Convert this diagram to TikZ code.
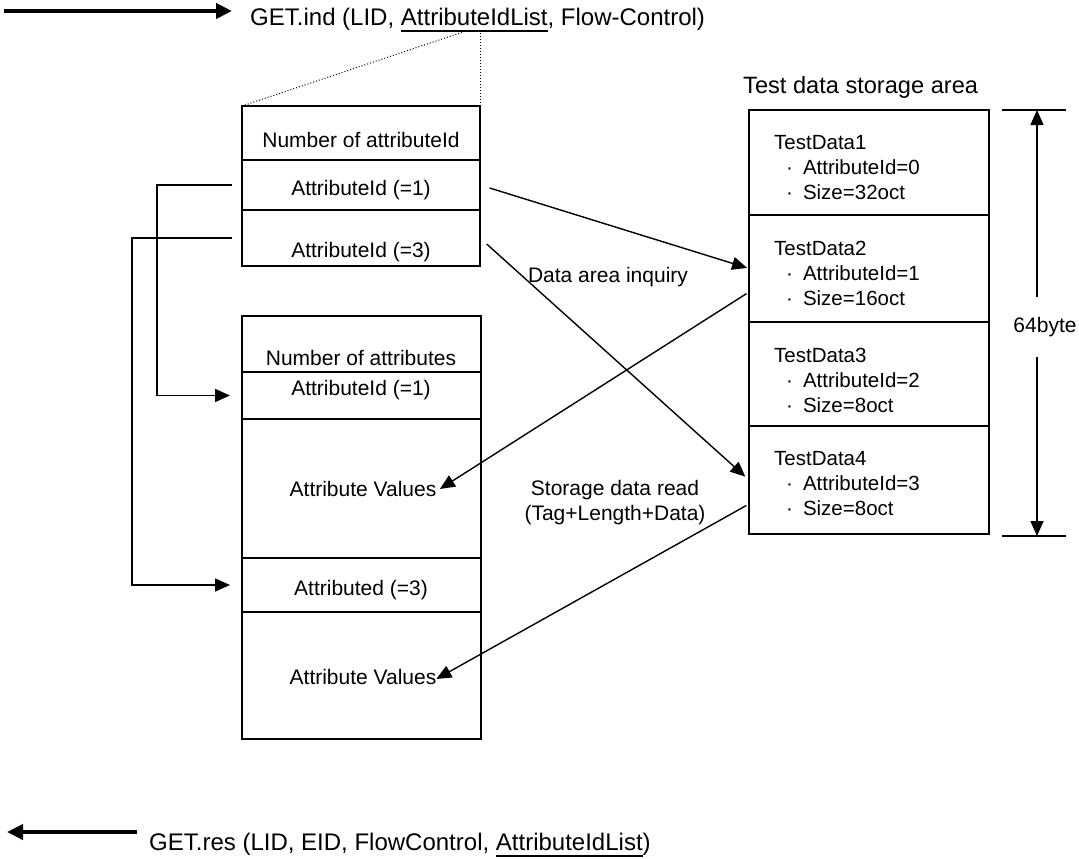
\documentclass[tikz,border=0pt]{standalone}
\usepackage{fontspec}
\setmainfont{Liberation Sans}
\usetikzlibrary{positioning, arrows.meta, calc}

\newcommand{\ulword}[1]{\setbox0\hbox{#1}\rlap{\rule[-6.5pt]{\wd0}{1.5pt}}#1}
\newcommand{\tditem}[1]{\hspace*{12pt}\textperiodcentered\hspace{10pt}#1}

\begin{document}
\begin{tikzpicture}[x=1pt, y=-1pt,
    font=\fontsize{21}{25}\selectfont,
    >={Triangle[length=15pt, width=13pt]},
    % Styles
    cell/.style={draw, line width=1.7pt, rectangle, minimum width=238pt, inner sep=0pt, outer sep=0pt},
    tdcell/.style={cell, minimum width=240pt},
    tdtext/.style={anchor=north west, align=left, inner sep=0pt, font=\fontsize{20.5}{25}\selectfont},
    arrow/.style={->, line width=1.4pt},
    bigarrow/.style={-{Triangle[length=16pt, width=15pt]}, line width=4.5pt},
    head/.style={font=\fontsize{24}{28}\selectfont, inner sep=0pt}
]
    \useasboundingbox (0,0) rectangle (1079,859);

    % --- GET.ind (incoming) ---
    \coordinate (indS) at (4,11);
    \coordinate (indE) at (232,11);
    \draw[bigarrow] (indS) -- (indE);
    \node[head, anchor=base west] (getind) at (250,25.5) {GET.ind (LID, \ulword{AttributeIdList}, Flow-Control)};
    \coordinate (ulA) at (463,32);

    % --- AttributeId list ---
    \node[cell, anchor=north west, minimum height=54pt] (c11) at (242,106) {};
    \node[cell, below=0pt of c11, minimum height=50pt] (c12) {};
    \node[cell, below=0pt of c12, minimum height=56pt] (c13) {};
    \node (n11) at (361,140) {Number of attributeId};
    \node (n12) at (361,190) {AttributeId (=1)};
    \node (n13) at (361,252) {AttributeId (=3)};

    \draw[dotted, line width=1pt] (c11.north west) -- (ulA);
    \draw[dotted, line width=1pt] (c11.north east) -- (c11.north east |- ulA);

    % --- response list ---
    \node[cell, anchor=north west, minimum width=239pt, minimum height=56pt] (c21) at (242,316) {};
    \node[cell, below=0pt of c21, minimum width=239pt, minimum height=47pt] (c22) {};
    \node[cell, below=0pt of c22, minimum width=239pt, minimum height=139pt] (c23) {};
    \node[cell, below=0pt of c23, minimum width=239pt, minimum height=54pt] (c24) {};
    \node[cell, below=0pt of c24, minimum width=239pt, minimum height=127pt] (c25) {};
    \node (n21) at (361,358) {Number of attributes};
    \node (n22) at (361,390) {AttributeId (=1)};
    \node (av1) at (363,489) {Attribute Values};
    \node (n24) at (361,590) {Attributed (=3)};
    \node (av2) at (363,677) {Attribute Values};

    % --- Test data storage area ---
    \node[anchor=west, font=\fontsize{23.6}{28}\selectfont, inner sep=0pt] (area) at (743,87) {Test data storage area};
    \node[tdcell, anchor=north west, minimum height=105pt] (rd1) at (749,110) {};
    \node[tdcell, below=0pt of rd1, minimum height=107pt] (rd2) {};
    \node[tdcell, below=0pt of rd2, minimum height=104pt] (rd3) {};
    \node[tdcell, below=0pt of rd3, minimum height=108pt] (rd4) {};
    \node[tdtext] (td1) at ([xshift=25pt, yshift=-25.6pt]rd1.north west) {TestData1\\ \tditem{AttributeId=0}\\ \tditem{Size=32oct}};
    \node[tdtext] (td2) at ([xshift=25pt, yshift=-25.6pt]rd2.north west) {TestData2\\ \tditem{AttributeId=1}\\ \tditem{Size=16oct}};
    \node[tdtext] (td3) at ([xshift=25pt, yshift=-25.6pt]rd3.north west) {TestData3\\ \tditem{AttributeId=2}\\ \tditem{Size=8oct}};
    \node[tdtext] (td4) at ([xshift=25pt, yshift=-25.6pt]rd4.north west) {TestData4\\ \tditem{AttributeId=3}\\ \tditem{Size=8oct}};

    % --- 64byte dimension ---
    \coordinate (dimT) at (1037,110);
    \coordinate (dimB) at (1037,536);
    \node[inner ysep=20pt] (n64) at (1045,327) {64byte};
    \draw[line width=1.6pt] ([xshift=-35pt]dimT) -- ([xshift=29pt]dimT);
    \draw[line width=1.6pt] ([xshift=-35pt]dimB) -- ([xshift=29pt]dimB);
    \draw[arrow] (n64.north -| dimT) -- (dimT);
    \draw[arrow] (n64.south -| dimB) -- (dimB);

    % --- brackets to response list ---
    \draw[arrow, line width=1.6pt] ([xshift=-10pt]c12.west) -- ++(-75,0) |- ([xshift=-12pt]c22.west);
    \draw[arrow, line width=1.6pt] ([xshift=-10pt]c13.west) -- ++(-100,0) |- ([xshift=-12pt]c24.west);

    % --- inquiry and read ---
    \node (inq) at (608,277) {Data area inquiry};
    \node[align=center] (rdlbl) at (615,503) {Storage data read\\(Tag+Length+Data)};
    \draw[arrow, shorten <=10pt, shorten >=2pt] (c12.east) -- (rd2.west);
    \draw[arrow, shorten <=9pt, shorten >=5pt] (c13.east) -- (rd4.west);
    \draw[arrow, shorten <=3pt] ([yshift=30pt]rd2.south west) -- (av1.east);
    \draw[arrow, shorten <=3pt, shorten >=-4pt] ([yshift=30pt]rd4.south west) -- (av2.east);

    % --- GET.res (outgoing) ---
    \coordinate (resS) at (137,832);
    \coordinate (resE) at (7,832);
    \draw[bigarrow] (resS) -- (resE);
    \node[head, anchor=base west] (getres) at (149,850) {GET.res (LID, EID, FlowControl, \ulword{AttributeIdList})};

\end{tikzpicture}
\end{document}
